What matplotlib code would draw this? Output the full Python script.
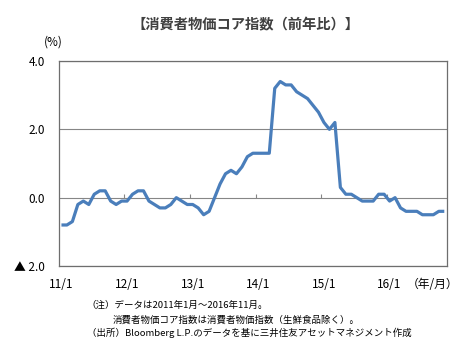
import numpy as np
import matplotlib
matplotlib.use("Agg")
import matplotlib.pyplot as plt

plt.rcParams['font.family'] = ['Noto Sans CJK JP', 'DejaVu Sans']

# core CPI, y/y %, Jan 2011 - Nov 2016
cpi_2011 = [-0.8, -0.8, -0.7, -0.2, -0.1, -0.2, 0.1, 0.2, 0.2, -0.1, -0.2, -0.1]
cpi_2012 = [-0.1, 0.1, 0.2, 0.2, -0.1, -0.2, -0.3, -0.3, -0.2, 0.0, -0.1, -0.2]
cpi_2013 = [-0.2, -0.3, -0.5, -0.4, 0.0, 0.4, 0.7, 0.8, 0.7, 0.9, 1.2, 1.3]
cpi_2014 = [1.3, 1.3, 1.3, 3.2, 3.4, 3.3, 3.3, 3.1, 3.0, 2.9, 2.7, 2.5]
cpi_2015 = [2.2, 2.0, 2.2, 0.3, 0.1, 0.1, 0.0, -0.1, -0.1, -0.1, 0.1, 0.1]
cpi_2016 = [-0.1, 0.0, -0.3, -0.4, -0.4, -0.4, -0.5, -0.5, -0.5, -0.4, -0.4]
cpi = cpi_2011 + cpi_2012 + cpi_2013 + cpi_2014 + cpi_2015 + cpi_2016

year_labels = ["11/1", "12/1", "13/1", "14/1", "15/1", "16/1"]
y_ticks = [-2.0, 0.0, 2.0, 4.0]

title = "【消費者物価コア指数（前年比）】"
notes = [
    "（注）データは2011年1月～2016年11月。",
    "消費者物価コア指数は消費者物価指数（生鮮食品除く）。",
    "（出所）Bloomberg L.P.のデータを基に三井住友アセットマネジメント作成",
]

blue = "#4a7ebb"
grid_col = "#868686"
frame_col = "#6e6e6e"

fig = plt.figure(figsize=(4.75, 3.53), dpi=100)
ax = fig.add_axes([0.1236, 0.2465, 0.8175, 0.5807])

# excel style category axis: points sit between the tick marks
x = np.arange(len(cpi)) + 0.5
ax.plot(x, cpi, color=blue, lw=2.3, solid_joinstyle="round", solid_capstyle="butt", zorder=3)

ax.set_xlim(0, 71)
ax.set_ylim(-2, 4)
ax.set_yticks(y_ticks)
ax.set_yticklabels([f"{v:.1f}" if v >= 0 else f"▲ {abs(v):.1f}" for v in y_ticks])
ax.yaxis.grid(True, color=grid_col, lw=0.8)
ax.set_axisbelow(True)

starts = np.arange(0, 72, 12)
ax.set_xticks(starts + 0.5)
ax.set_xticklabels(year_labels)
ax.tick_params(axis="both", length=0, labelsize=8.5)
ax.tick_params(axis="y", pad=10)
ax.tick_params(axis="x", pad=9)
for s in ax.spines.values():
    s.set_color(frame_col)
    s.set_linewidth(0.9)

# small tick marks standing on the zero line
zero_pos = (0 - (-2)) / 6
sec = ax.secondary_xaxis(zero_pos)
sec.set_xticks(starts[1:])
sec.tick_params(direction="in", length=3, color=grid_col, width=0.8, labelbottom=False, labeltop=False)
for s in sec.spines.values():
    s.set_visible(False)

fig.text(0.516, 0.929, title, ha="center", va="center", fontsize=10.3,
         fontweight="bold", color="#404040")
fig.text(0.112, 0.881, "(%)", ha="center", va="center", fontsize=8.5)
fig.text(0.856, 0.194, "（年/月）", ha="left", va="center", fontsize=8.5)

fig.text(0.183, 0.136, notes[0], ha="left", va="center", fontsize=6.8)
fig.text(0.238, 0.093, notes[1], ha="left", va="center", fontsize=6.8)
fig.text(0.183, 0.058, notes[2], ha="left", va="center", fontsize=6.8)

fig.savefig("out.png", dpi=100)
